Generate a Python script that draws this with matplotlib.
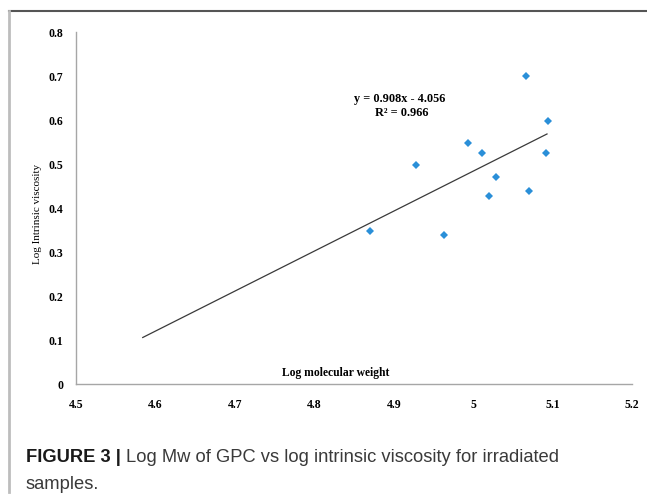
import matplotlib
matplotlib.use("Agg")
import matplotlib.pyplot as plt
from matplotlib.lines import Line2D

# Data
log_mw = [4.870, 4.928, 4.963, 4.994, 5.011, 5.020, 5.029, 5.067, 5.070, 5.092, 5.094]
log_iv = [0.348, 0.497, 0.339, 0.549, 0.526, 0.428, 0.470, 0.701, 0.438, 0.526, 0.597]
slope, intercept = 0.908, -4.056
trend_x = [4.584, 5.093]
x_ticks = [4.5, 4.6, 4.7, 4.8, 4.9, 5.0, 5.1, 5.2]
x_tick_labels = ["4.5", "4.6", "4.7", "4.8", "4.9", "5", "5.1", "5.2"]
y_ticks = [0, 0.1, 0.2, 0.3, 0.4, 0.5, 0.6, 0.7, 0.8]
y_tick_labels = ["0", "0.1", "0.2", "0.3", "0.4", "0.5", "0.6", "0.7", "0.8"]

W, H = 647, 494
fig = plt.figure(figsize=(W / 100, H / 100), dpi=100)
fig.patch.set_facecolor("white")

ax = fig.add_axes([76 / W, 1 - 384.3 / H, (632 - 76) / W, (384.3 - 32) / H])
ax.set_xlim(4.5, 5.2)
ax.set_ylim(0, 0.8)
for s in ["top", "right"]:
    ax.spines[s].set_visible(False)
for s in ["left", "bottom"]:
    ax.spines[s].set_color("#a6a6a6")
    ax.spines[s].set_linewidth(1.0)
ax.tick_params(length=0)
serif = ["Liberation Serif", "DejaVu Serif"]
ax.set_xticks(x_ticks)
ax.set_xticklabels(x_tick_labels, family=serif, fontweight="bold", fontsize=8.5)
ax.set_yticks(y_ticks)
ax.set_yticklabels(y_tick_labels, family=serif, fontweight="bold", fontsize=8.5)
ax.tick_params(axis="x", pad=10.5)
ax.tick_params(axis="y", pad=9)

ty = [slope * x + intercept for x in trend_x]
ax.plot(trend_x, ty, color="#3a3a3a", linewidth=0.9, zorder=2)
ax.plot(log_mw, log_iv, linestyle="none", marker="D", markersize=4.2,
        color="#2a8fd8", markeredgewidth=0, zorder=3)

ax.text(4.908, 0.648, "y = 0.908x - 4.056", family=serif, fontweight="bold",
        fontsize=8.8, ha="center", va="center")
ax.text(4.910, 0.616, "R² = 0.966", family=serif, fontweight="bold",
        fontsize=8.8, ha="center", va="center")
ax.text(4.8275, 0.025, "Log molecular weight", family=serif, fontweight="bold",
        fontsize=8.4, ha="center", va="center")
fig.text(38 / W, 1 - 214 / H, "Log Intrinsic viscosity", family=serif,
         fontsize=8, rotation=90, ha="center", va="center")

# frame lines
fig.add_artist(Line2D([9 / W, 1], [1 - 11 / H, 1 - 11 / H], color="#555555", linewidth=1.5))
fig.add_artist(Line2D([9 / W, 9 / W], [1 - 492 / H, 1 - 11 / H], color="#bdbdbd", linewidth=2))

# caption
sans = ["Liberation Sans", "DejaVu Sans"]
fig.canvas.draw()
r = fig.canvas.get_renderer()
t1 = fig.text(26 / W, 1 - 462 / H, "FIGURE 3 | ", family=sans, fontweight="bold",
              fontsize=13.2, ha="left", va="baseline", color="#1a1a1a")
bb = t1.get_window_extent(renderer=r)
fig.text(bb.x1 / W, 1 - 462 / H, "Log Mw of GPC vs log intrinsic viscosity for irradiated",
         family=sans, fontsize=13.2, ha="left", va="baseline", color="#3a3a3a")
fig.text(26 / W, 1 - 489 / H, "samples.", family=sans, fontsize=13.2,
         ha="left", va="baseline", color="#3a3a3a")

fig.savefig("out.png", dpi=100, facecolor="white")
